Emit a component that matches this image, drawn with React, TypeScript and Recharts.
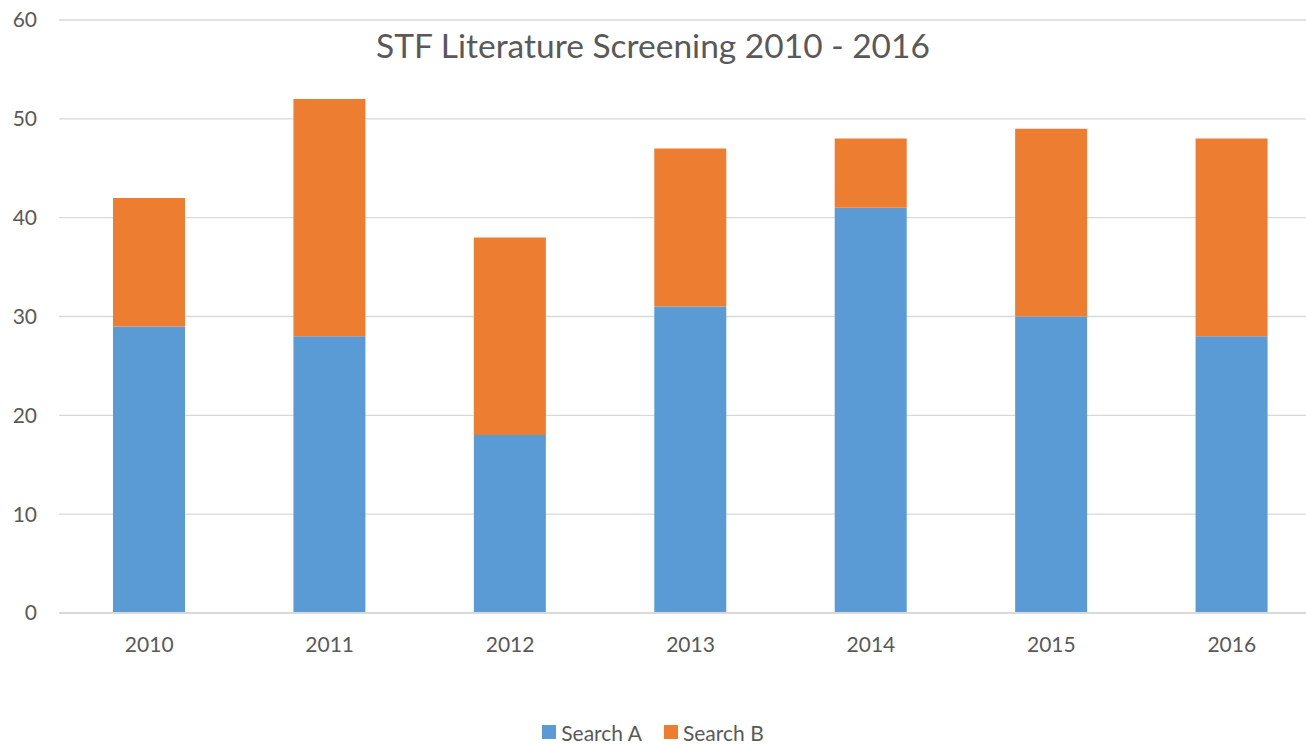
import React from 'react';
import { BarChart, Bar, XAxis, YAxis, CartesianGrid, Legend } from 'recharts';

const years = ['2010', '2011', '2012', '2013', '2014', '2015', '2016'];
const searchA = [29, 28, 18, 31, 41, 30, 28];
const searchB = [13, 24, 20, 16, 7, 19, 20];
const yTicks = [0, 10, 20, 30, 40, 50, 60];

const seriesNames = ['Search A', 'Search B'];
const colors = ['#5B9BD5', '#ED7D31'];

const data = years.map((y, i) => ({ year: y, a: searchA[i], b: searchB[i] }));

const FONT = 'Lato, "Open Sans", sans-serif';

const LegendContent = () => (
  <div style={{ display: 'flex', justifyContent: 'center', alignItems: 'center', height: 24, fontFamily: FONT, fontSize: 21, color: '#595959' }}>
    {seriesNames.map((n, i) => (
      <div key={n} style={{ display: 'flex', alignItems: 'center', marginLeft: i === 0 ? 0 : 22 }}>
        <div style={{ width: 14, height: 14, background: colors[i], marginRight: 5 }} />
        <span>{n}</span>
      </div>
    ))}
  </div>
);

export default function App() {
  return (
    <div style={{ position: 'absolute', left: 0, top: 0, width: 1306, height: 744, background: '#fff', fontFamily: FONT, overflow: 'hidden' }}>
      <BarChart width={1322} height={744} data={data} margin={{ top: 20, right: 0, left: 0, bottom: 57 }}>
        <CartesianGrid vertical={false} stroke="#D9D9D9" strokeWidth={1.3} />
        <XAxis
          dataKey="year"
          height={50}
          axisLine={{ stroke: '#D9D9D9', strokeWidth: 2 }}
          tickLine={false}
          tickSize={0}
          tickMargin={24}
          tick={{ fill: '#595959', fontSize: 21, fontFamily: FONT }}
        />
        <YAxis
          domain={[0, 60]}
          ticks={yTicks}
          width={59}
          axisLine={false}
          tickLine={false}
          tickSize={0}
          tickMargin={22}
          tick={{ fill: '#595959', fontSize: 21, fontFamily: FONT }}
        />
        <Legend verticalAlign="bottom" content={<LegendContent />} wrapperStyle={{ bottom: 0, left: 0, width: 1306 }} />
        <Bar dataKey="a" name={seriesNames[0]} stackId="s" fill={colors[0]} barSize={72} isAnimationActive={false} />
        <Bar dataKey="b" name={seriesNames[1]} stackId="s" fill={colors[1]} barSize={72} isAnimationActive={false} />
      </BarChart>
      <div style={{ position: 'absolute', left: 0, width: 1306, top: 29, textAlign: 'center', fontSize: 33.5, lineHeight: 1, color: '#595959', fontFamily: FONT, pointerEvents: 'none' }}>
        STF Literature Screening 2010 - 2016
      </div>
    </div>
  );
}
